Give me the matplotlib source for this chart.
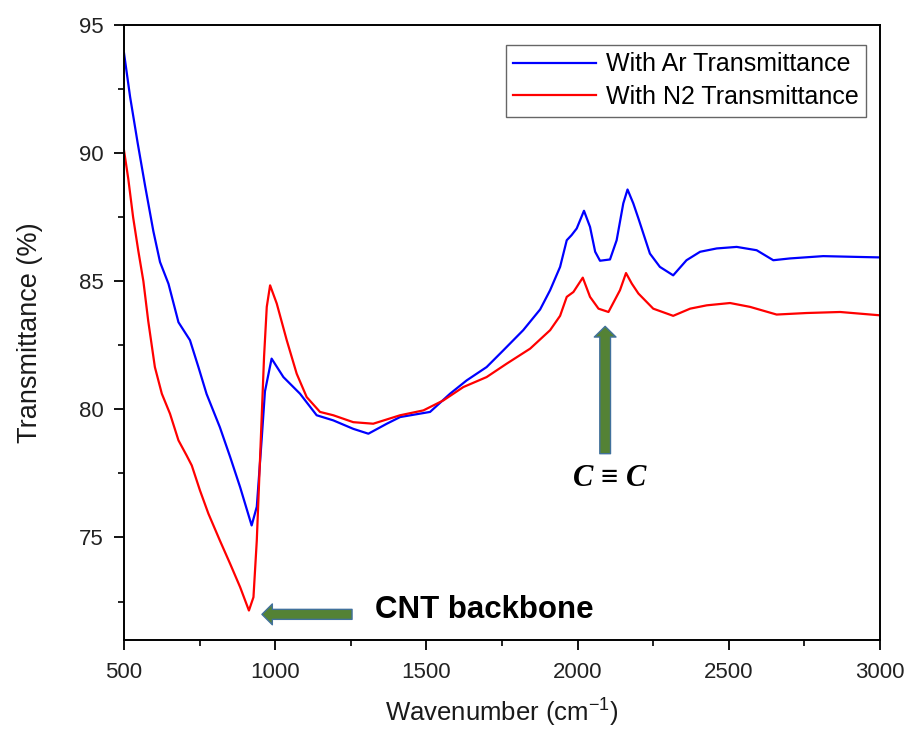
import matplotlib
matplotlib.use('Agg')
import matplotlib.pyplot as plt
from matplotlib.ticker import MultipleLocator
from matplotlib.patches import FancyArrowPatch

# Global font settings (Arial-like)
plt.rcParams['font.family'] = ['Liberation Sans', 'DejaVu Sans']
plt.rcParams['mathtext.default'] = 'regular'

# FTIR spectrum - with Ar
ar_wavenumber = [500, 520, 545, 570, 597, 619, 647, 680, 718, 746, 773, 817, 851,
                 884, 922, 939, 955, 966, 988, 1027, 1082, 1137, 1192, 1258, 1308,
                 1369, 1413, 1512, 1578, 1633, 1699, 1754, 1820, 1876, 1909, 1942,
                 1964, 1980, 1997, 2021, 2041, 2058, 2074, 2107, 2129, 2151, 2165,
                 2184, 2201, 2239, 2272, 2316, 2360, 2405, 2460, 2526, 2592, 2647,
                 2702, 2812, 2922, 3000]
ar_transmittance = [93.9, 92.2, 90.4, 88.7, 86.95, 85.75, 84.9, 83.4, 82.7, 81.65,
                    80.6, 79.3, 78.14, 76.96, 75.47, 76.2, 78.8, 80.7, 81.98, 81.26,
                    80.61, 79.77, 79.57, 79.24, 79.05, 79.44, 79.70, 79.90, 80.61,
                    81.13, 81.65, 82.3, 83.09, 83.9, 84.65, 85.56, 86.6, 86.8,
                    87.06, 87.75, 87.12, 86.15, 85.8, 85.85, 86.6, 88.04, 88.58,
                    88.04, 87.45, 86.08, 85.56, 85.23, 85.82, 86.15, 86.28, 86.34,
                    86.21, 85.82, 85.89, 85.98, 85.95, 85.93]

# FTIR spectrum - with N2
n2_wavenumber = [500, 514, 530, 547, 564, 580, 602, 625, 652, 680, 707, 724, 751,
                 779, 817, 851, 884, 913, 928, 939, 950, 963, 972, 983, 1005, 1038,
                 1071, 1104, 1148, 1192, 1258, 1324, 1413, 1490, 1556, 1622, 1699,
                 1765, 1843, 1909, 1942, 1964, 1986, 2017, 2041, 2069, 2102, 2140,
                 2160, 2179, 2201, 2250, 2316, 2372, 2427, 2504, 2570, 2658, 2757,
                 2868, 3000]
n2_transmittance = [90.1, 89.0, 87.5, 86.2, 85.0, 83.45, 81.65, 80.61, 79.83, 78.79,
                    78.2, 77.81, 76.84, 75.93, 74.88, 73.97, 73.06, 72.15, 72.67,
                    74.88, 78.14, 82.04, 84.0, 84.84, 84.13, 82.7, 81.39, 80.48,
                    79.9, 79.77, 79.5, 79.44, 79.77, 79.96, 80.35, 80.87, 81.26,
                    81.78, 82.37, 83.09, 83.65, 84.39, 84.58, 85.14, 84.39, 83.93,
                    83.80, 84.65, 85.32, 84.91, 84.52, 83.93, 83.65, 83.93, 84.06,
                    84.15, 84.0, 83.70, 83.76, 83.80, 83.67]

labels = ['With Ar Transmittance', 'With N2 Transmittance']

fig = plt.figure(figsize=(9.08, 7.33), dpi=100)
ax = fig.add_axes([0.1366, 0.1269, 0.8326, 0.839])

ax.plot(ar_wavenumber, ar_transmittance, color='#0000ff', lw=1.6,
        solid_joinstyle='round', label=labels[0])
ax.plot(n2_wavenumber, n2_transmittance, color='#ff0000', lw=1.6,
        solid_joinstyle='round', label=labels[1])

ax.set_xlim(500, 3000)
ax.set_ylim(71.0, 95)
ax.xaxis.set_major_locator(MultipleLocator(500))
ax.xaxis.set_minor_locator(MultipleLocator(250))
ax.yaxis.set_major_locator(MultipleLocator(5))
ax.yaxis.set_minor_locator(MultipleLocator(2.5))
ax.tick_params(which='major', direction='out', length=7.5, width=1.3,
               labelsize=16, labelcolor='#222222', pad=8)
ax.tick_params(which='minor', direction='out', length=4.5, width=1.2)
ax.tick_params(axis='y', which='major', pad=7)
for sp in ax.spines.values():
    sp.set_linewidth(1.4)

ax.set_xlabel('Wavenumber (cm$^{-1}$)', fontsize=18.5, labelpad=10, color='#1a1a1a')
ax.set_ylabel('Transmittance (%)', fontsize=19.5, labelpad=26, color='#1a1a1a')

leg = ax.legend(loc='upper right', bbox_to_anchor=(0.9815, 0.9675), borderaxespad=0,
                fontsize=18, frameon=True, fancybox=False, handlelength=3.3,
                handletextpad=0.4, labelspacing=0.35, borderpad=0.3)
leg.get_frame().set_edgecolor('#404040')
leg.get_frame().set_linewidth(1.0)

# Annotation arrows
green = '#548235'
edge = '#41719C'
cnt_arrow = FancyArrowPatch((1254, 72.0), (956, 72.0), mutation_scale=1,
                            arrowstyle='simple,head_length=7.5,head_width=15,tail_width=7.2',
                            facecolor=green, edgecolor=edge, lw=1.0,
                            shrinkA=0, shrinkB=0)
ax.add_patch(cnt_arrow)
cc_arrow = FancyArrowPatch((2091, 78.27), (2091, 83.24), mutation_scale=1,
                           arrowstyle='simple,head_length=7.7,head_width=15.6,tail_width=7.7',
                           facecolor=green, edgecolor=edge, lw=1.0,
                           shrinkA=0, shrinkB=0)
ax.add_patch(cc_arrow)

ax.text(1330, 72.16, 'CNT backbone', fontsize=22.5, fontweight='bold',
        ha='left', va='center')
ax.text(2107, 77.3, 'C \u2261 C', fontsize=22, fontweight='bold', fontstyle='italic',
        family=['Liberation Serif', 'DejaVu Serif'], ha='center', va='center')

plt.savefig('out.png', dpi=100)
